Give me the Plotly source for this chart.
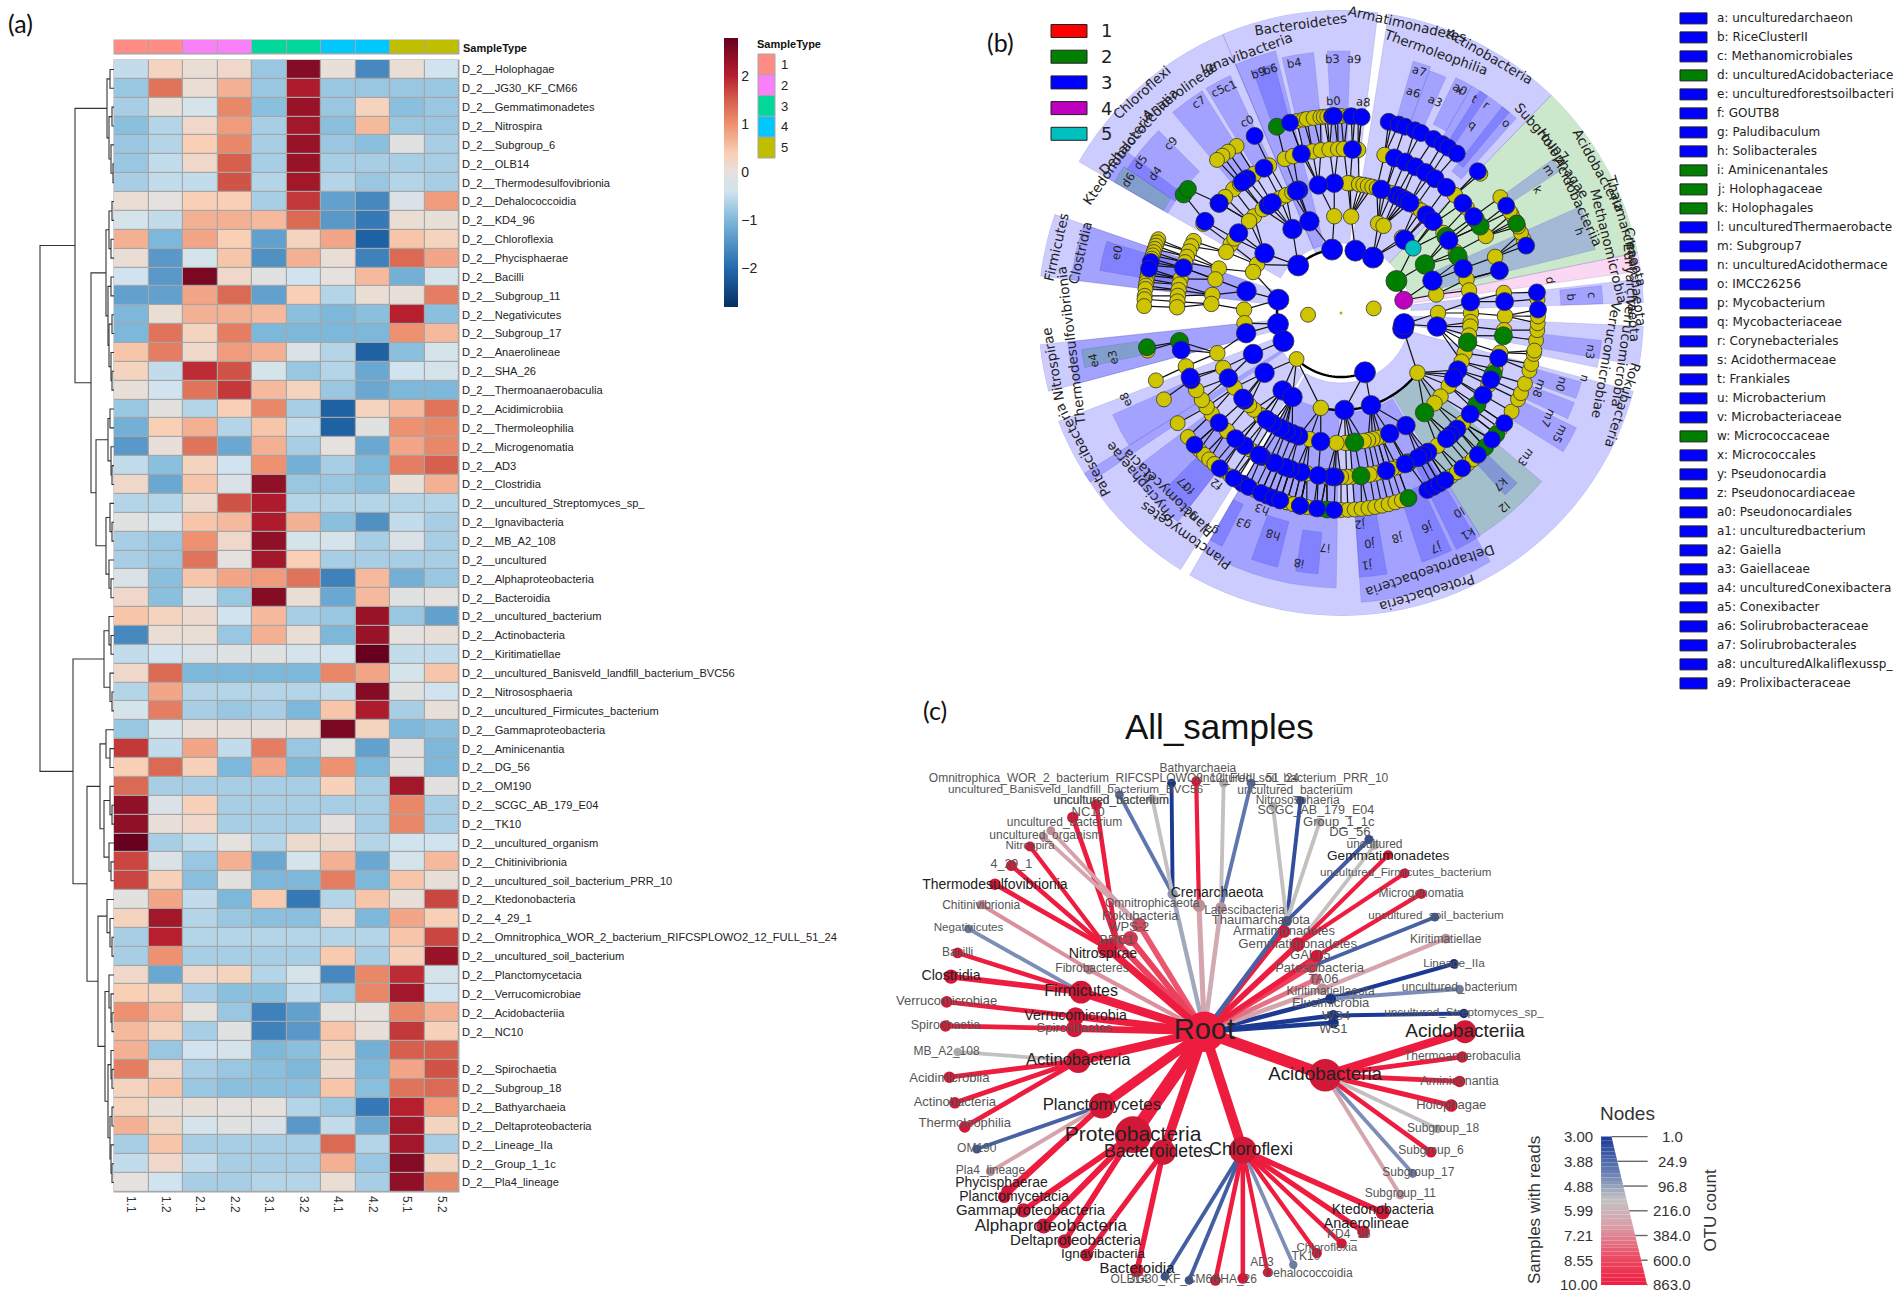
import plotly.graph_objects as go
from plotly.colors import sample_colorscale
import math

W, H = 1902, 1299
# ---------- panel (a) data ----------
row_names = ["Holophagae","JG30_KF_CM66","Gemmatimonadetes","Nitrospira","Subgroup_6","OLB14","Thermodesulfovibrionia","Dehalococcoidia","KD4_96","Chloroflexia","Phycisphaerae","Bacilli","Subgroup_11","Negativicutes","Subgroup_17","Anaerolineae","SHA_26","Thermoanaerobaculia","Acidimicrobiia","Thermoleophilia","Microgenomatia","AD3","Clostridia","uncultured_Streptomyces_sp_","Ignavibacteria","MB_A2_108","uncultured","Alphaproteobacteria","Bacteroidia","uncultured_bacterium","Actinobacteria","Kiritimatiellae","uncultured_Banisveld_landfill_bacterium_BVC56","Nitrososphaeria","uncultured_Firmicutes_bacterium","Gammaproteobacteria","Aminicenantia","DG_56","OM190","SCGC_AB_179_E04","TK10","uncultured_organism","Chitinivibrionia","uncultured_soil_bacterium_PRR_10","Ktedonobacteria","4_29_1","Omnitrophica_WOR_2_bacterium_RIFCSPLOWO2_12_FULL_51_24","uncultured_soil_bacterium","Planctomycetacia","Verrucomicrobiae","Acidobacteriia","NC10","","Spirochaetia","Subgroup_18","Bathyarchaeia","Deltaproteobacteria","Lineage_IIa","Group_1_1c","Pla4_lineage"]
col_names = ["1.1","1.2","2.1","2.2","3.1","3.2","4.1","4.2","5.1","5.2"]
col_groups = [1,1,2,2,3,3,4,4,5,5]
heat = [
[-.5,.3,.1,.2,-.8,2.5,.05,-1.6,.1,-.4],[-.8,1.3,.1,.7,-.8,2.1,-.8,-.8,-.8,-.8],[-.7,.05,-.3,1.1,-.9,2.3,-.8,.3,-.9,-.8],
[-.9,-.6,.2,.9,-.7,2.2,-.9,.6,-.8,-.8],[-.8,-.6,.4,1.1,-.7,2.3,-.8,-.9,-.1,-.7],[-.8,-.5,.2,1.5,-.7,2.3,-.7,-.7,-.7,-.7],
[-.7,-.5,-.5,1.6,-.6,2.2,-.6,-.8,-.6,-.7],[.1,0,.4,.4,-.7,1.8,-1.3,-1.6,-.2,.9],[-.3,-.5,.7,.7,.6,1.4,-1.4,-1.8,.1,.05],
[.7,-1,.8,.4,-1.3,.3,.8,-2.1,.5,.3],[.1,-1.4,-.3,.5,-1.5,.7,.1,-1.7,1.4,.8],[-.4,-1.4,2.6,.2,-.1,-.4,0,.6,-1.1,-.3],
[-1.3,-1.3,.8,1.4,-1.3,.4,-.6,.1,.05,1.2],[-1,.1,.7,.7,.6,-.9,-1,-.9,2,-.9],[-1,1.3,.3,1.2,-1,-1,-1,-1,1,.6],
[.5,1.2,.2,.9,.7,-.2,-.6,-2.1,-.9,-.3],[.3,-.5,1.9,1.6,-.3,-.8,-.6,-1.2,-.4,-.3],[.05,-.4,1.3,1.8,.6,.3,-.8,-1.2,-1,-1],
[-.8,-.05,-.6,.4,1.1,-.7,-2.1,.3,.6,1.3],[-1.1,.4,.7,-.6,.5,-.5,-2.1,-.1,1,1.1],[-1.4,.05,1.3,-1.2,.7,-.7,0,-1.2,.8,1.1],
[-.5,-.9,.3,-.4,1,-1.1,-.7,-1,1.2,1.5],[.2,-1.2,.5,-.2,2.4,-.8,-.8,-.9,.05,.7],[-.6,-.6,.15,1.6,2.1,-.6,-.6,-.6,-.6,-.6],
[-.1,-.3,.5,.6,2.1,.7,-.9,-1.5,-.5,-.7],[-.7,-.8,1,.2,2.4,-.3,-.3,-.7,-.2,-.7],[-.7,-.8,1.3,0,2.2,.4,-.7,-.7,-.7,-.7],
[-.2,-.9,.5,.8,.9,1.3,-1.7,.6,-1.1,-.8],[.2,-.9,-.2,-.8,2.5,.1,-1.2,.6,-.1,0],[.5,.3,.15,-.4,.6,-.7,-.8,2.3,-.8,-1.3],
[-1.6,.1,.1,-.8,.7,.1,-1,2.3,0,.05],[-.5,-.4,-.2,-.15,-.1,-.3,-.4,2.8,-.5,-.5],[.2,1.4,-1,-1,-1,-1,1.1,.8,-.3,.5],
[-.6,.8,-.6,-.6,-.6,-.6,-.5,2.5,-.1,-.4],[-.3,1.2,-.7,-.8,-.7,-1,.5,2.1,-.7,.05],[-.8,-.3,.05,.05,.05,.1,2.6,.3,-1,-.9],
[1.8,-.5,.8,-.5,1.2,-.8,0,-1.3,-.05,-1],[.4,1.4,.35,-1,.8,-1,1,-1,-.05,-1],[1.4,-.7,-.7,-.7,-.7,-.7,.35,-.7,2.2,-.05],
[2.4,-.2,.35,-.7,-.7,-.7,-.7,-.7,1.1,-.7],[2.4,.05,.2,-.7,-.7,-.7,-.05,-.7,1.1,-.7],[2.8,-.7,-.5,0,-.6,.15,.15,-.6,-.4,-.4],
[1.7,-.2,-.8,.7,-1.2,-.3,.7,-1.2,-.3,.6],[1.7,.35,-.9,-.05,-1,-1,1.2,-1,.5,.05],[-.05,.8,-.5,-1,.45,-1.8,-.6,.5,.05,1.7],
[.3,2.2,-.6,-.8,-.9,-.9,.2,-1,.8,.4],[-.7,2,-.6,-.6,-.6,-.6,-.6,-.6,.5,1.7],[-.7,1,-.7,-.7,-.7,-.7,.45,-.7,.35,2.3],
[.2,-1.2,.2,.3,-.6,-.3,-1.6,1.1,1.9,-.3],[.4,.3,-.7,-.9,-.9,-.5,-.8,1.1,2.2,-.4],[1,.6,0,-.8,-1.7,-1.3,0,0,1.1,.7],
[.6,.3,-.7,-.1,-1.7,-1.4,.5,.05,1.8,.35],[.7,-.8,-.4,-.3,-1,-.9,.25,-1.1,1.5,1.5],[1.2,.2,-.7,-.8,-.9,-1,.15,-1,.8,1.6],
[.3,.5,-.8,-.9,-.9,-.9,.5,-.9,1.3,1.4],[.3,.05,.05,0,0,-.6,-.8,-1.8,2,.9],[.7,.25,-.3,-.1,-.2,-1.4,-.5,-1.2,2.2,.3],
[-.7,.5,-.7,-.7,-.7,-.7,1.4,-.6,2.2,-.7],[-.5,.2,-.5,-.7,-.7,-.7,.7,-.8,2.5,.25],[0,-.4,-.7,-.7,-.6,-.6,.1,-.7,2.4,1.1]]
group_colors = ["#FF8D85","#FA80FA","#00D99A","#00C8FF","#BFBF00"]

def N(h, a, b):
    return (h, a, b)
dendro = N(74,
  N(39,
    N(7, N(4,0,1), N(5, N(2,2,3), N(3,4,N(1,5,6)))),
    N(23,
      N(8, N(5,N(2,7,8),N(3,9,10)), N(6,N(3,11,12),N(5,N(2,13,14),N(3,15,N(2,16,17))))),
      N(18, N(6,N(4,18,19),N(3,20,N(2,21,22))), N(8,N(4,23,N(2,24,25)),N(5,26,N(3,27,28)))))),
  N(41,
    N(10, N(5,29,N(3,30,31)), N(4,32,N(2,33,34))),
    N(27,
      N(14, N(8,35,N(4,36,37)), N(10,N(4,38,N(2,39,40)),N(5,41,N(3,42,43)))),
      N(16, N(7,44,N(4,45,N(2,46,47))), N(9,N(5,48,N(3,49,N(2,50,51))),N(6,N(3,52,N(2,53,54)),N(4,N(2,55,56),N(3,57,N(2,58,59)))))))))

# ---------- panel (b) data ----------
phylum_sector_start = [83,46,11.5,2,-10,-120,212,201,186,161,113]
phylum_sector_end   = [113,81,46,6.5,-2.5,-15,238,214,195,173,150]
phylum_sector_kind  = ["b","b","g","b","b","b","b","b","b","b","b"]
extra_start = [8,  104, 96, 88, 105, 143, 122, 115, 135, 146, 161, 163, 186, 188, 204, 217, -120, -86, -86, -72, -64, -58, -48, -32, -12, 2, 14, 33, 50, 56, 60, 48, 225, 240, -110, -100, 66, 70, -25, -20]
extra_end   = [11.5,113, 103, 93, 110, 150, 130, 121, 146, 150, 173, 170, 195, 192, 212, 232, -91, -59, -80, -65, -58, -40, -44, -26, -6, 6, 24, 36, 58, 60, 64, 52, 232, 243, -104, -95, 70, 74, -21, -16]
extra_inner = [65, 65, 160, 160, 200, 200, 160, 170, 200, 205, 100, 170, 100, 205, 170, 170, 97, 100, 200, 190, 170, 97, 190, 200, 200, 220, 100, 200, 190, 200, 210, 180, 200, 215, 215, 220, 205, 205, 200, 200]
extra_outer = [303,270, 262, 262, 258, 270, 262, 262, 258, 262, 272, 245, 275, 262, 250, 265, 275, 290, 265, 262, 263, 262, 245, 262, 262, 262, 262, 262, 262, 262, 262, 262, 250, 262, 262, 262, 258, 262, 250, 250]
extra_kind  = ["p","b","b","b","b","b","b","b","b","g","b","b","b","g","b","b","b","b","b","b","b","g","b","b","b","b","b","b","b","b","b","b","b","b","b","b","b","b","b","b"]
sector_color = {"b":"rgba(0,0,255,0.2)","g":"rgba(0,140,0,0.2)","p":"rgba(230,60,200,0.2)"}

ring_radius = [33, 64, 97, 130, 164, 197]
ring_yellow = [[183, 8],
 [-134],
 [94,84,67.5,64,51,150,155,-38,-102,0,11,178,186],
 [132,118,115,112,127,148,152,160,165,172,176,86,87,82,80,78,76,74,70,67,60,55,52,48,44,38,28,24,15,10,0,-4,-6,-10,-18,-22,-28,-34,-40,-44,-72,-74,-76,-78,-80,-86,-88,-92,-104,-116,-122,-128,232,228,215,205,198,225,240,145,135],
 [131,128,135,147,122,116,110,107,103,100,97,94,91,89,84,74.6,70,64,57,46,40,32,28,20,15,7,-1,-6,-14,-20,-26,-31,-36,-42,-48,-54,-70,-72,-74,-76,-78,-80,-86,-88,-90,-95,-102,-106,-112,-116,-122,-128,236,232,226,218,215,212,208,199,154,156,158,160,162,164,168,170,172,174,176,178],
 [105,103,101,100,98,96,95,94,91,90,88,86,85,84,122,125,127,129,158,159,160,161,162,163,164,166,168,169,170,171,172,173,175,176,178,191,200,206,214,219,222,224,226,228,230,233,236,238,244,246,248,250,252,254,256,258,262,264,266,-106,-104,-100,-96,-90,-88,-86,-84,-82,-80,-78,-76,-74,-72,-70,-60,-58,-56,-54,-50,-48,-45,-43,-40,-38,-36,-34,-30,-26,-24,-21,-17,-15,-12,-8,-5,-3,-1,75,22,24,26,28,30,31,36,45,4,-11]]
ring_blue = [[],
 [98,77,60,-14,-10,-68,190,206,168,132],
 [142,167,192,205,218,233,120,109,49,19.5,-8,-72,-120,-88],
 [93,100,109,110,124,122,142,64.6,62,60,58,49,45,34,20,5,-26,-30,-60,-68,-99,-109,-112,-115,-118,-122,-125,222,221,210,72],
 [125,127,146,138,118,104,86,71,67,63,59,55,50,42,36,15,4,-16,-24,-30,-38,-45,-48,-50,-58,-60,-62,-67,-74,-92,-93,-98,-104,-108,-110,-114,-119,-126,240,230,222,204,203,193,164],
 [116,105,92.6,92,87,84,76,73,71,68,66,62,59,57,54,165,167,222,232,240,248,252,258,-123,-118,-114,-110,-108,-102,-97,-92,-64,-62,-60,-58,-52,-46,-40,-34,1,6,33,46,20]]
ring_green = [[],[30],[30],[-13,-50,-84,26,36],[-66,-34,-83,-120,190,138,35,32,-22,-8],[109,143,141,190,-43,-38,-102,-94,-70,27]]
ring_cyan = {2:[42]}
arc_radius = [64,64,64,64,97,97,64]
arc_start  = [98,77,-134,190,-102,-72,30]
arc_end    = [132,60,-68,168,-72,-38,11.5]

clade_labels = ["Bacteroidetes","Armatimonadetes","Actinobacteria","Thermoleophilia","Acidobacteria","Subgroup7","Holophagae","Acidobacteriia","Thaumarchaeota","Crenarchaeota","Euryarchaeota","Methanomicrobia","Firmicutes","Clostridia","Chloroflexi","Ktedonobacteria","Dehalococcoidia","Anaerolineae","Ignavibacteria","Proteobacteria","Deltaproteobacteria","Planctomycetes","Phycisphaerae","Planctomycetacia","Patescibacteria","Nitrospirae","Thermodesulfovibrionia","Verrucomicrobia","Verrucomicrobiae","Rokubacteria"]
clade_theta = [98,77,60,70,29,42,34,25,16,7,4,14,167,167,132,145,138,126,110,-73,-71,235,220,226,208,190,187,-8,-10,-18]
clade_r     = [292,297,297,278,295,270,268,262,297,297,292,276,292,268,297,272,272,275,277,293,273,272,262,250,293,293,272,286,270,296]
letter_labels = ["b3","b4","b9","b6","a9","a8","b0","c1","c5","c7","c0","d6","d5","d4","c9","e0","e4","e3","a7","a6","a3","a0","x","t","r","q","o","m","k","h","d","c","b","n3","n0","m8","n","m7","m5","m3","k7","l2","k1","l0","j7","j6","j1","j8","j2","j0","i8","i7","h8","h3","g4","g3","g1","f7","f2","f1","f0","e8"]
letter_theta = [92,100.6,109,106,87,84,92,116,119,124,116,148,143,143,135,165,191,191,72,72,66,62,62,58,55,55,49,34.5,32,19,9,4,4,-9,-18,-21,-15,-27,-29,-38,-47,-50,-60,-59.5,-68,-68,-84,-76,-85,-83,-99.5,-94,-107,-112,-121,-115,-127,-133,-126,-140,-131,202]
letter_r = [254]*5+[212,212]+[253,254,254,214,251,251,232,240,232,252,232,254,232,232,254,252,252,254,230,252,252,232,252,212,251,231,252,231,212,252,232,250,235,234,254,255,232,254,231,254,232,212,232,254,235,232,212,252,232,252,232,212,252,232,232,232]
lefse_names = ["a: unculturedarchaeon","b: RiceClusterII","c: Methanomicrobiales","d: unculturedAcidobacteriace","e: unculturedforestsoilbacteri","f: GOUTB8","g: Paludibaculum","h: Solibacterales","i: Aminicenantales","j: Holophagaceae","k: Holophagales","l: unculturedThermaerobacte","m: Subgroup7","n: unculturedAcidothermace","o: IMCC26256","p: Mycobacterium","q: Mycobacteriaceae","r: Corynebacteriales","s: Acidothermaceae","t: Frankiales","u: Microbacterium","v: Microbacteriaceae","w: Micrococcaceae","x: Micrococcales","y: Pseudonocardia","z: Pseudonocardiaceae","a0: Pseudonocardiales","a1: unculturedbacterium","a2: Gaiella","a3: Gaiellaceae","a4: unculturedConexibactera","a5: Conexibacter","a6: Solirubrobacteraceae","a7: Solirubrobacterales","a8: unculturedAlkaliflexussp_","a9: Prolixibacteraceae"]
lefse_class = [3,3,3,2,3,3,3,3,2,2,2,3,3,3,3,3,3,3,3,3,3,3,2,3,3,3,3,3,3,3,3,3,3,3,3,3]
class_colors = {1:"#ff0000",2:"#007f00",3:"#0000ff",4:"#bf00bf",5:"#00bfbf"}

# ---------- panel (c) data ----------
c_names = ["Root","Crenarchaeota","Omnitrophicaeota","Latescibacteria","Rokubacteria","WPS-2","BRC1","Nitrospirae","Fibrobacteres","Firmicutes","Verrucomicrobia","Spirochaetes","Actinobacteria","Planctomycetes","Proteobacteria","Bacteroidetes","Chloroflexi","Acidobacteria","WS1","WS4","Elusimicrobia","Kiritimatiellaeota","TA06","Patescibacteria","GAL15","Gemmatimonadetes","Armatimonadetes","Thaumarchaeota",
 "Bathyarchaeia","Omnitrophica_WOR_2_bacterium_RIFCSPLOWO2_12_FULL_51_24","uncultured_Banisveld_landfill_bacterium_BVC56","uncultured_bacterium","uncultured_soil_bacterium_PRR_10","uncultured_bacterium","Nitrososphaeria","SCGC_AB_179_E04","Group_1_1c","DG_56","uncultured","Gemmatimonadetes","uncultured_Firmicutes_bacterium","Microgenomatia","uncultured_soil_bacterium","Kiritimatiellae","Lineage_IIa","uncultured_bacterium","uncultured_Streptomyces_sp_",
 "uncultured_bacterium","NC10","uncultured_bacterium","uncultured_organism","Nitrospira","4_29_1","Thermodesulfovibrionia","Chitinivibrionia","Negativicutes","Bacilli","Clostridia","Verrucomicrobiae","Spirochaetia","MB_A2_108","Acidimicrobiia","Actinobacteria","Thermoleophilia","OM190","Pla4_lineage","Phycisphaerae","Planctomycetacia","Gammaproteobacteria","Alphaproteobacteria","Deltaproteobacteria","Ignavibacteria","Bacteroidia",
 "OLB14","JG30_KF_CM66","SHA_26","AD3","Dehalococcoidia","TK10","Chloroflexia","KD4_96","Anaerolineae","Ktedonobacteria","Acidobacteriia","Thermoanaerobaculia","Aminicenantia","Holophagae","Subgroup_18","Subgroup_6","Subgroup_17","Subgroup_11"]
c_parent = [-1]+[0]*27+[1,2,1,1,3,3,27,27,27,27,25,25,25,24,23,21,20,20,19,6,6,4,4,7,7,7,8,9,9,9,10,11,12,12,12,12,13,13,13,13,14,14,14,15,15,16,16,16,16,16,16,16,16,16,16,17,17,17,17,17,17,17,17]
c_x = [555,497,545,585,436,420,395,378,345,330,320,318,325,368,425,480,625,775,790,790,785,770,758,750,760,725,700,705,
 495,540,400,460,590,640,730,680,765,855,865,890,920,950,975,995,1010,1020,1028,
 358,315,275,262,237,203,173,148,125,105,93,85,83,105,90,100,118,140,165,195,190,225,262,300,340,432,
 483,527,575,625,670,717,760,805,845,880,1030,1025,1020,1005,980,968,935,912]
c_y = [880,525,555,560,605,640,650,665,720,778,840,872,955,1070,1145,1190,1185,992,857,838,795,770,745,712,685,655,622,595,
 240,235,270,280,240,240,285,300,340,385,400,425,472,525,585,640,705,770,833,
 295,328,362,378,403,452,500,553,615,677,738,803,865,932,997,1063,1125,1182,1240,1290,1305,1340,1380,1420,1455,1495,
 1510,1520,1520,1515,1500,1480,1450,1425,1395,1345,880,945,1008,1070,1130,1190,1245,1300]
c_lx = [555,578,460,628,438,417,395,370,350,330,320,318,325,368,425,470,640,775,790,795,785,785,772,765,748,725,700,658,
 543,390,320,385,715,720,725,758,800,820,865,890,922,950,977,995,1010,1020,1028,
 385,343,300,265,237,203,173,148,125,105,93,85,83,85,90,100,118,140,165,185,208,238,275,320,370,432,
 418,500,610,660,745,740,778,818,850,880,1030,1025,1020,1005,990,968,945,912]
c_ly = [880,525,552,568,585,613,645,681,718,778,840,872,955,1070,1147,1190,1187,992,875,842,808,778,745,717,685,655,622,595,
 203,230,258,285,230,260,285,312,342,368,398,428,472,525,582,645,705,768,833,
 285,315,343,375,403,450,503,556,612,677,738,803,865,932,1000,1063,1118,1182,1238,1272,1306,1342,1382,1420,1455,1492,
 1520,1520,1520,1476,1503,1460,1436,1403,1375,1340,880,945,1008,1070,1130,1188,1243,1297]
c_font = [29,14,12,12,13,13,13,14.2,12,16,14.2,13,16.5,16.8,21,17.6,17.8,18.8,13,13,13,12,13,13,13,13.2,13,13,
 12,12,11.8,12,12,12,12,12.5,13,13,12,13.6,11.6,12,11.6,12,11.8,12,11.8,
 12,13,12,12,11.5,12.5,14,12,11.6,12,14.2,13,12.5,12,13,13,13,12,12,14,14,15,17,15,13.5,15,
 12,12,12,12,12,12,11.5,12,14.5,14,19,12,12.5,13,12,12,12,12]
c_reads = [10,5.5,7,6.8,8.5,9,9,10,7.5,10,10,10,10,10,10,10,10,10,3,3,3,7,8,9,10,10,10,4,
 3,10,4.5,6,6,4.5,3.5,6,6,3.8,6,10,10,10,4,7,3,5,3,
 10,10,7.2,7,10,10,10,7.5,5,10,10,10,10,6,10,10,10,4,7,10,10,10,10,10,10,10,
 3.9,3.9,10,10,10,5,10,10,10,10,10,10,10,10,6,10,5,7]
c_otus = [863,20,40,25,60,70,70,150,15,220,120,100,260,300,700,280,340,520,24,24,24,30,30,40,40,60,40,20,
 10,16,10,10,10,10,10,10,10,12,10,16,16,18,10,16,14,10,14,
 24,28,10,10,18,24,30,12,10,24,60,30,30,8,30,30,30,10,12,28,40,60,70,60,40,50,
 10,10,24,24,14,8,18,20,40,60,220,30,30,40,10,24,10,12]

def px2x(p): return p/W
def px2y(p): return 1-p/H
hcolors = [[0,"#053061"],[(2.8-2)/5.6,"#2369ad"],[(2.8-1)/5.6,"#7db8da"],[(2.8-.4)/5.6,"#d0e3ef"],[.5,"#e5e1de"],[(2.8+.4)/5.6,"#f9cfb5"],[(2.8+1)/5.6,"#ee9170"],[(2.8+1.5)/5.6,"#d6604d"],[(2.8+2)/5.6,"#b71f2e"],[1,"#67001f"]]
fig = go.Figure()
LBL = "Liberation Sans"
ann = []
shp = []
def note(x, y, text, size=12, color="#222", font=LBL, angle=0, xanchor="center", xref="paper", yref="paper", bold=False):
    ann.append(dict(x=x, y=y, xref=xref, yref=yref, text=("<b>%s</b>" % text) if bold else text, showarrow=False, textangle=angle,
                    font=dict(size=size, color=color, family=font), xanchor=xanchor, yanchor="middle"))

# panel (a)
HX0, HX1, HY0, HY1 = 114, 459, 60, 1192
shp.append(dict(type="rect", xref="paper", yref="paper", x0=px2x(HX0-.5), x1=px2x(HX1+.5), y0=px2y(HY1+.5), y1=px2y(HY0-.5), fillcolor="#a6a6a6", line_width=0, layer="below"))
fig.add_trace(go.Heatmap(z=heat, x=col_names, y=list(range(60)), colorscale=hcolors, zmin=-2.8, zmax=2.8, xgap=1.2, ygap=1.2, hoverinfo="skip",
    colorbar=dict(x=px2x(724), xanchor="left", xref="paper", y=px2y(307), yanchor="bottom", yref="paper", len=268.5, lenmode="pixels", thickness=14, thicknessmode="pixels",
                  outlinewidth=0, tickvals=[-2,-1,0,1,2], ticktext=["−2","−1","0","1","2"], tickfont=dict(size=14, family=LBL, color="#222"), ticks="", ypad=0, xpad=0)))
fig.update_layout(
    xaxis=dict(domain=[px2x(HX0), px2x(HX1)], anchor="y", side="bottom", tickangle=90, tickfont=dict(size=12, family=LBL, color="#333"), ticks="", showgrid=False, zeroline=False, ticklabelstandoff=3),
    yaxis=dict(domain=[px2y(HY1), px2y(HY0)], anchor="x", side="right", range=[59.5,-0.5], tickmode="array", tickvals=list(range(60)), ticktext=[("D_2__"+n) if n else "" for n in row_names],
               tickfont=dict(size=11.1, family=LBL, color="#222"), ticks="", showgrid=False, zeroline=False, ticklabelstandoff=2))
strip_scale = []
for i, c in enumerate(group_colors):
    strip_scale += [[i/5, c], [(i+1)/5, c]]
shp.append(dict(type="rect", xref="paper", yref="paper", x0=px2x(HX0-.5), x1=px2x(HX1+.5), y0=px2y(54.5), y1=px2y(39.5), fillcolor="#a6a6a6", line_width=0, layer="below"))
fig.add_trace(go.Heatmap(z=[col_groups], x=col_names, colorscale=strip_scale, zmin=0.5, zmax=5.5, showscale=False, xaxis="x2", yaxis="y2", hoverinfo="skip", xgap=1, ygap=1))
fig.update_layout(xaxis2=dict(domain=[px2x(HX0), px2x(HX1)], anchor="y2", visible=False),
                  yaxis2=dict(domain=[px2y(54), px2y(40)], anchor="x2", visible=False))
note(px2x(461), px2y(48), "SampleType", 11, "#111", xanchor="left", bold=True)
note(px2x(755), px2y(44), "SampleType", 11, "#111", xanchor="left", bold=True)
for i, c in enumerate(group_colors):
    shp.append(dict(type="rect", xref="paper", yref="paper", x0=px2x(758), x1=px2x(775), y0=px2y(54+20.8*(i+1)), y1=px2y(54+20.8*i), fillcolor=c, line=dict(color="#a6a6a6", width=1)))
    note(px2x(779), px2y(54+20.8*(i+.5)), str(i+1), 13, "#222", xanchor="left")

dx, dy = [], []
def walk(node):
    if isinstance(node, int):
        return 0.0, float(node)
    h, a, b = node
    ha, ya = walk(a)
    hb, yb = walk(b)
    dx.extend([ha, h, h, hb, None]); dy.extend([ya, ya, yb, yb, None])
    return h, (ya+yb)/2
walk(dendro)
fig.add_trace(go.Scatter(x=dx, y=dy, mode="lines", line=dict(color="#333", width=1.1), xaxis="x3", yaxis="y3", hoverinfo="skip", showlegend=False))
fig.update_layout(xaxis3=dict(domain=[px2x(36), px2x(114)], anchor="y3", range=[78,0], visible=False),
                  yaxis3=dict(domain=[px2y(HY1), px2y(HY0)], anchor="x3", range=[59.5,-0.5], visible=False))

# panel (b)
CX, CY, RB = 1341, 313, 303
polar_dom = dict(x=[px2x(CX-RB), px2x(CX+RB)], y=[px2y(CY+RB), px2y(CY-RB)])
fig.update_layout(polar=dict(domain=polar_dom, bgcolor="rgba(0,0,0,0)", radialaxis=dict(visible=False, range=[0,RB]),
                             angularaxis=dict(visible=False, direction="counterclockwise", rotation=0)))
all_s = phylum_sector_start+extra_start; all_e = phylum_sector_end+extra_end
all_i = [70]*len(phylum_sector_start)+extra_inner; all_o = [RB]*len(phylum_sector_start)+extra_outer
all_k = phylum_sector_kind+extra_kind
fig.add_trace(go.Barpolar(theta=[(a+b)/2 for a,b in zip(all_s,all_e)], width=[b-a for a,b in zip(all_s,all_e)], base=all_i, r=[o-i for o,i in zip(all_o,all_i)],
    marker=dict(color=[sector_color[k] for k in all_k], line=dict(color="rgba(60,60,160,0.25)", width=.6)), hoverinfo="skip", showlegend=False))
rings = []
for k, rr in enumerate(ring_radius):
    rings.append(sorted(ring_yellow[k]+ring_blue[k]+ring_green[k]+ring_cyan.get(k, [])+([11.5] if k==1 else [])))
lr, lt = [], []
def angdiff(a,b):
    return abs((a-b+180)%360-180)
for k in range(2, len(rings)):
    for t in rings[k]:
        p = min(rings[k-1], key=lambda q: angdiff(q,t))
        lr += [ring_radius[k-1], ring_radius[k], None]; lt += [p, t, None]
fig.add_trace(go.Scatterpolar(r=lr, theta=lt, mode="lines", line=dict(color="#111", width=1.2), hoverinfo="skip", showlegend=False))
for rr, a0, a1 in zip(arc_radius, arc_start, arc_end):
    n = 24
    fig.add_trace(go.Scatterpolar(r=[rr]*(n+1), theta=[a0+(a1-a0)*i/n for i in range(n+1)], mode="lines", line=dict(color="#000", width=2.4), hoverinfo="skip", showlegend=False))
fig.add_trace(go.Scatterpolar(r=[0], theta=[0], mode="markers", marker=dict(size=3, color="#b5b000"), hoverinfo="skip", showlegend=False))
def nodes(rs, ts, col, sz):
    fig.add_trace(go.Scatterpolar(r=rs, theta=ts, mode="markers", marker=dict(size=sz, color=col, line=dict(color="#333", width=.8)), hoverinfo="skip", showlegend=False))
blue_size = [16,21,19.5,18.5,18,17]
yellow_size = [15,15,15.5,15.5,15.5,15]
for k, rr in enumerate(ring_radius):
    if ring_yellow[k]:
        nodes([rr]*len(ring_yellow[k]), ring_yellow[k], "#cfc400", yellow_size[k])
for k, rr in enumerate(ring_radius):
    if ring_green[k]:
        nodes([rr]*len(ring_green[k]), ring_green[k], "#007f00", blue_size[k])
    if ring_blue[k]:
        nodes([rr]*len(ring_blue[k]), ring_blue[k], "#0000ff", blue_size[k])
nodes([64], [11.5], "#bf00bf", 18)
nodes([97], [42], "#00bfbf", 16)
def pol(t, r):
    a = math.radians(t)
    return px2x(CX+r*math.cos(a)), px2y(CY-r*math.sin(a))
for name, t, r in zip(clade_labels, clade_theta, clade_r):
    x, y = pol(t, r)
    note(x, y, name, 13.5, "#222", "DejaVu Sans", angle=90-t)
for name, t, r in zip(letter_labels, letter_theta, letter_r):
    x, y = pol(t, r)
    note(x, y, name, 11.5, "#222", "DejaVu Sans", angle=90-t)
for i in range(5):
    py = 31+25.7*i
    shp.append(dict(type="rect", xref="paper", yref="paper", x0=px2x(1051), x1=px2x(1087), y0=px2y(py+6.5), y1=px2y(py-6.5), fillcolor=class_colors[i+1], line=dict(color="#222", width=1)))
    note(px2x(1106), px2y(py), str(i+1), 18, "#222", "DejaVu Sans")
for i, name in enumerate(lefse_names):
    py = 18.4+19*i
    shp.append(dict(type="rect", xref="paper", yref="paper", x0=px2x(1680), x1=px2x(1707), y0=px2y(py+5.5), y1=px2y(py-5.5), fillcolor=class_colors[lefse_class[i]], line=dict(color="#222", width=1)))
    note(px2x(1715), px2y(py), name, 12, "#222", "DejaVu Sans", xanchor="left")

# panel labels
note(px2x(20), px2y(23), "(a)", 25, "#111", "Lato")
note(px2x(1001), px2y(42), "(b)", 25, "#111", "Lato")
note(px2x(935), px2y(710), "(c)", 25, "#111", "Lato")

# panel (c)
read_scale = [[0,"#1c3a94"],[.25,"#6a80b4"],[.42,"#c2c2c2"],[.6,"#d8a0aa"],[.8,"#ea5068"],[1,"#ee1c3f"]]
def rc(v):
    return sample_colorscale(read_scale, (min(max(v,3),10)-3)/7)[0]
def rc_dark(v):
    parts = rc(v)[4:-1].split(",")
    return "rgb(%d,%d,%d)" % tuple(int(float(p)*0.88) for p in parts)
XC0, XC1, YC0, YC1 = 900, 900+1568/1.823, 690, 690+1568/2.575
fig.update_layout(xaxis4=dict(domain=[px2x(XC0), px2x(XC1)], anchor="y4", range=[0,1568], visible=False),
                  yaxis4=dict(domain=[px2y(YC1), px2y(YC0)], anchor="x4", range=[1568,0], visible=False))
for i, p in enumerate(c_parent):
    if p < 0:
        continue
    fig.add_trace(go.Scatter(x=[c_x[p], c_x[i]], y=[c_y[p], c_y[i]], mode="lines", line=dict(color=rc(c_reads[i]), width=2.6+0.4*math.sqrt(c_otus[i])),
                             xaxis="x4", yaxis="y4", hoverinfo="skip", showlegend=False))
fig.add_trace(go.Scatter(x=c_x, y=c_y, mode="markers", marker=dict(opacity=1, size=[5+1.2*math.sqrt(v) for v in c_otus], color=[rc_dark(v) if j else rc(v) for j, v in enumerate(c_reads)], line_width=0),
                         xaxis="x4", yaxis="y4", hoverinfo="skip", showlegend=False))
fig.add_trace(go.Scatter(x=c_lx, y=c_ly, mode="text", text=c_names, textposition="middle center", cliponaxis=False,
                         textfont=dict(size=c_font, family=LBL, color=["#222" if f>=13.5 else "#555" for f in c_font]), xaxis="x4", yaxis="y4", hoverinfo="skip", showlegend=False))
note(583, 95, "All_samples", 35, "#111", xref="x4", yref="y4")
# size / colour key
key_left = ["3.00","3.88","4.88","5.99","7.21","8.55","10.00"]
key_right = ["1.0","24.9","96.8","216.0","384.0","600.0","863.0"]
key_top, key_bot, key_l, key_rt0, key_rt1 = 1150, 1532, 1278, 1297, 1362
bands = 40
for i in range(bands):
    y0 = key_top+(key_bot-key_top)*i/bands; y1 = key_top+(key_bot-key_top)*(i+1)/bands
    xa = key_rt0+(key_rt1-key_rt0)*i/bands; xb = key_rt0+(key_rt1-key_rt0)*(i+1)/bands
    shp.append(dict(type="path", xref="x4", yref="y4", path=f"M {key_l} {y0} L {xa} {y0} L {xb} {y1} L {key_l} {y1} Z",
                    fillcolor=sample_colorscale(read_scale, (i+.5)/bands)[0], line_width=0))
for i in range(7):
    yy = key_top+(key_bot-key_top)*i/6
    xa = key_rt0+(key_rt1-key_rt0)*i/6
    shp.append(dict(type="line", xref="x4", yref="y4", x0=xa, x1=1363, y0=yy, y1=yy, line=dict(color="#666", width=1.4)))
    note(1237, yy, key_left[i], 15, "#333", xref="x4", yref="y4")
    note(1408, yy, key_right[i], 15, "#333", xref="x4", yref="y4")
note(1327, 1090, "Nodes", 19, "#333", xref="x4", yref="y4")
note(1157, 1340, "Samples with reads", 17, "#333", angle=-90, xref="x4", yref="y4")
note(1477, 1340, "OTU count", 17, "#333", angle=-90, xref="x4", yref="y4")

fig.update_layout(width=W, height=H, autosize=False, margin=dict(l=0,r=0,t=0,b=0), paper_bgcolor="white", plot_bgcolor="rgba(0,0,0,0)",
                  annotations=ann, shapes=shp, showlegend=False)
fig.write_html("out.html", post_script="document.body.style.margin='0';document.body.style.overflow='hidden';", config=dict(displayModeBar=False))
